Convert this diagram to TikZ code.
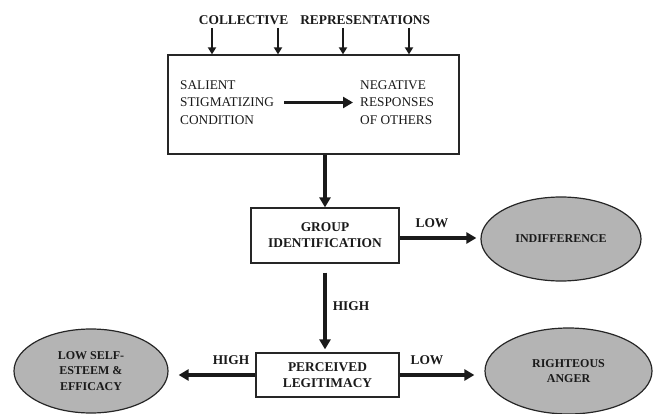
\documentclass[tikz,border=0pt]{standalone}
\usepackage{fontspec}
\setmainfont{Liberation Serif}
\usepackage{xcolor}
\usepackage{tikz}
\usetikzlibrary{arrows.meta,positioning,shapes.geometric}
\definecolor{ink}{HTML}{1A1A1A}
\definecolor{ovalfill}{HTML}{B4B4B4}
\definecolor{edge}{HTML}{262626}

\begin{document}
\begin{tikzpicture}[
  x=1pt, y=1pt,
  font=\fontsize{13.4}{16}\selectfont\bfseries,
  box/.style={draw=edge, line width=1.2pt, fill=white, align=center, text=ink, inner sep=0pt},
  oval/.style={ellipse, draw=edge, line width=1.2pt, fill=ovalfill, align=center, text=ink, inner sep=0pt, font=\fontsize{12}{15.5}\selectfont\bfseries},
  plain/.style={align=left, text=ink, inner sep=0pt, font=\fontsize{13.3}{17.5}\selectfont},
  lbl/.style={text=ink, inner sep=0pt},
  arr/.style={-{Triangle[length=10pt, width=11pt]}, color=ink, line width=3.4pt},
  tarr/.style={-{Triangle[length=7pt, width=8pt]}, color=ink, line width=2pt}
]
\useasboundingbox (0,0) rectangle (653,-414);

\node[lbl] (colrep) at (314.5,-20) {COLLECTIVE\hspace{12pt}REPRESENTATIONS};
\node[box, minimum width=291pt, minimum height=99pt] (stig) at (313.5,-104.5) {};
\node[plain, anchor=west] (cond) at (180,-102.5) {SALIENT\\STIGMATIZING\\CONDITION};
\node[plain, anchor=west] (resp) at (360,-102.5) {NEGATIVE\\RESPONSES\\OF OTHERS};

\node[box, minimum width=148pt, minimum height=55pt] (grp) at (325,-235.5) {GROUP\\IDENTIFICATION};
\node[oval, minimum width=160pt, minimum height=84pt] (ind) at (561,-239) {INDIFFERENCE};
\node[box, minimum width=143pt, minimum height=44pt] (perc) at (327.5,-375) {PERCEIVED\\LEGITIMACY};
\node[oval, minimum width=154pt, minimum height=84pt] (self) at (91,-371) {LOW SELF-\\ESTEEM \&\\EFFICACY};
\node[oval, minimum width=167pt, minimum height=86pt] (anger) at (568.5,-371) {RIGHTEOUS\\ANGER};

\node[lbl] (lowa) at (432,-223) {LOW};
\node[lbl] (higha) at (351,-306) {HIGH};
\node[lbl] (highb) at (231,-360) {HIGH};
\node[lbl] (lowb) at (427,-360) {LOW};

% collective representations feed the condition box
\foreach \x [count=\i] in {212,278,343,409}
  \coordinate (c\i) at (\x,-28);
\foreach \i in {1,...,4}
  \draw[tarr] (c\i) -- (c\i |- stig.north);

\draw[arr, shorten <=10pt, shorten >=7pt] (cond) -- (resp);
\draw[arr] (grp.north |- stig.south) -- (grp.north);
\draw[arr, shorten >=4pt] ([yshift=-2.5pt]grp.east) -- ([yshift=-2.5pt]grp.east -| ind.west);
\draw[arr, shorten <=9pt, shorten >=3pt] (grp.south) -- (grp.south |- perc.north);
\draw[arr, shorten >=10pt] (perc.west) -- (perc.west -| self.east);
\draw[arr, shorten >=10pt] (perc.east) -- (perc.east -| anger.west);
\end{tikzpicture}
\end{document}
